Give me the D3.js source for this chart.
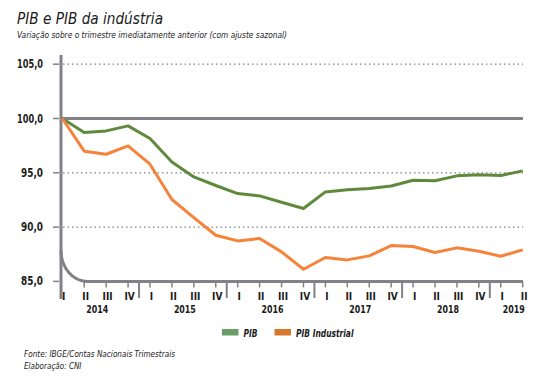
<!DOCTYPE html>
<html><head><meta charset="utf-8">
<script src="https://cdn.jsdelivr.net/npm/d3@7"></script>
<style>
body{margin:0;background:#fff;}
text{font-family:"Liberation Sans Narrow","DejaVu Sans Condensed","Roboto Condensed",sans-serif;}
</style></head>
<body>
<svg id="c" width="539" height="376"></svg>
<script>
const years = ["2014","2015","2016","2017","2018","2019"];
const quarters = [
  "2014-I","2014-II","2014-III","2014-IV",
  "2015-I","2015-II","2015-III","2015-IV",
  "2016-I","2016-II","2016-III","2016-IV",
  "2017-I","2017-II","2017-III","2017-IV",
  "2018-I","2018-II","2018-III","2018-IV",
  "2019-I","2019-II"];
const pib = [100.0,98.71,98.86,99.32, 98.16,96.0,94.62,93.83, 93.09,92.87,92.29,91.71,
  93.24,93.43,93.55,93.79, 94.32,94.26,94.72,94.81, 94.75,95.18];
const pibIndustrial = [100.0,96.99,96.71,97.48, 95.79,92.54,90.88,89.25, 88.73,88.95,87.72,86.12,
  87.2,86.98,87.35,88.3, 88.21,87.66,88.09,87.78, 87.32,87.9];
const yTicks = [85,90,95,100,105];
const gridDotted = [90,95,105];
const seriesNames = ["PIB","PIB Industrial"];
const lineColors = ["#5f8a3b","#f5843a"];
const swatchColors = ["#6a9e68","#d8782a"];

const svg = d3.select("#c");
const gray = "#808288";
const ink = "#1a1a1a";

const x = d3.scalePoint().domain(quarters).range([62.3, 522.7]);
const y = d3.scaleLinear().domain([85,105]).range([281.4, 64.2]);
const x0 = 61, xEnd = 523;

function fit(sel, w){ return sel.attr("textLength", w).attr("lengthAdjust","spacingAndGlyphs"); }

// title
svg.append("text").attr("x",17).attr("y",24).attr("font-size",15.5).attr("font-style","italic")
  .attr("fill",ink).text("PIB e PIB da indústria").call(fit,146);
svg.append("text").attr("x",17).attr("y",37.5).attr("font-size",9).attr("font-style","italic")
  .attr("fill",ink).text("Variação sobre o trimestre imediatamente anterior (com ajuste sazonal)").call(fit,270);

// dotted grid
svg.selectAll(".grid").data(gridDotted).enter().append("line")
  .attr("x1",x0+2).attr("x2",xEnd).attr("y1",d=>y(d)).attr("y2",d=>y(d))
  .attr("stroke",gray).attr("stroke-width",1.3).attr("stroke-dasharray","1.5,3");
// 100 line
svg.append("line").attr("x1",x0).attr("x2",xEnd).attr("y1",y(100)).attr("y2",y(100))
  .attr("stroke",gray).attr("stroke-width",3);

// y ticks
svg.selectAll(".yt").data(yTicks).enter().append("line")
  .attr("x1",53).attr("x2",59).attr("y1",d=>y(d)).attr("y2",d=>y(d))
  .attr("stroke",gray).attr("stroke-width",1.5);
svg.selectAll(".yl").data(yTicks).enter().append("text")
  .attr("x",43).attr("y",d=>y(d)).attr("dy","0.35em").attr("text-anchor","end")
  .attr("font-size",11.5).attr("font-weight","bold").attr("fill",ink)
  .text(d=>d.toFixed(1).replace(".",","))
  .attr("textLength",d=>d>=100?26:22).attr("lengthAdjust","spacingAndGlyphs");

// vertical axis
svg.append("line").attr("x1",x0).attr("x2",x0).attr("y1",55).attr("y2",299)
  .attr("stroke",gray).attr("stroke-width",3);
// curved corner and baseline
const cy0 = y(85) - 31;
svg.append("path").attr("d",`M${x0},${cy0} A26,31 0 0 0 ${x0+26},${y(85)} L${xEnd},${y(85)}`)
  .attr("fill","none").attr("stroke",gray).attr("stroke-width",3);

// quarter ticks
svg.selectAll(".qt").data(quarters.slice(1)).enter().append("line")
  .attr("x1",d=>x(d)).attr("x2",d=>x(d)).attr("y1",y(85)).attr("y2",y(85)+6)
  .attr("stroke",gray).attr("stroke-width",1.5);
// year separators
const step = x.step();
years.slice(1).forEach(yr=>{
  const xs = x(yr+"-I") - step/2;
  svg.append("line").attr("x1",xs).attr("x2",xs).attr("y1",y(85)).attr("y2",298)
    .attr("stroke",gray).attr("stroke-width",2);
});
// quarter labels
svg.selectAll(".ql").data(quarters).enter().append("text")
  .attr("x",d=>x(d)+1.5).attr("y",299.5).attr("text-anchor","middle")
  .attr("font-size",10).attr("font-weight","bold").attr("fill",ink)
  .text(d=>d.split("-")[1]);
// year labels
years.forEach(yr=>{
  const qs = quarters.filter(q=>q.startsWith(yr));
  const cx = d3.mean(qs, q=>x(q)) + 2;
  svg.append("text").attr("x",cx).attr("y",312.5).attr("text-anchor","middle")
    .attr("font-size",10.5).attr("font-weight","bold").attr("fill",ink).text(yr).call(fit,22);
});

// lines
const line = d3.line().x((d,i)=>x(quarters[i])).y(d=>y(d));
[pib, pibIndustrial].forEach((s,i)=>{
  svg.append("path").datum(s).attr("d",line).attr("fill","none")
    .attr("stroke",lineColors[i]).attr("stroke-width",3).attr("stroke-linejoin","round");
});

// legend
const legX = [222, 274.5];
const legW = [14, 57.5];
seriesNames.forEach((n,i)=>{
  svg.append("rect").attr("x",legX[i]).attr("y",329).attr("width",16.5).attr("height",6.5)
    .attr("fill",swatchColors[i]);
  svg.append("text").attr("x",legX[i]+21.5).attr("y",337).attr("font-size",10.5)
    .attr("font-weight","bold").attr("font-style","italic").attr("fill",ink).text(n).call(fit,legW[i]);
});

// footer
svg.append("text").attr("x",24).attr("y",356.5).attr("font-size",9.5).attr("font-style","italic")
  .attr("fill",ink).text("Fonte: IBGE/Contas Nacionais Trimestrais").call(fit,151);
svg.append("text").attr("x",24).attr("y",369).attr("font-size",9.5).attr("font-style","italic")
  .attr("fill",ink).text("Elaboração: CNI").call(fit,57.5);
</script>
</body></html>
